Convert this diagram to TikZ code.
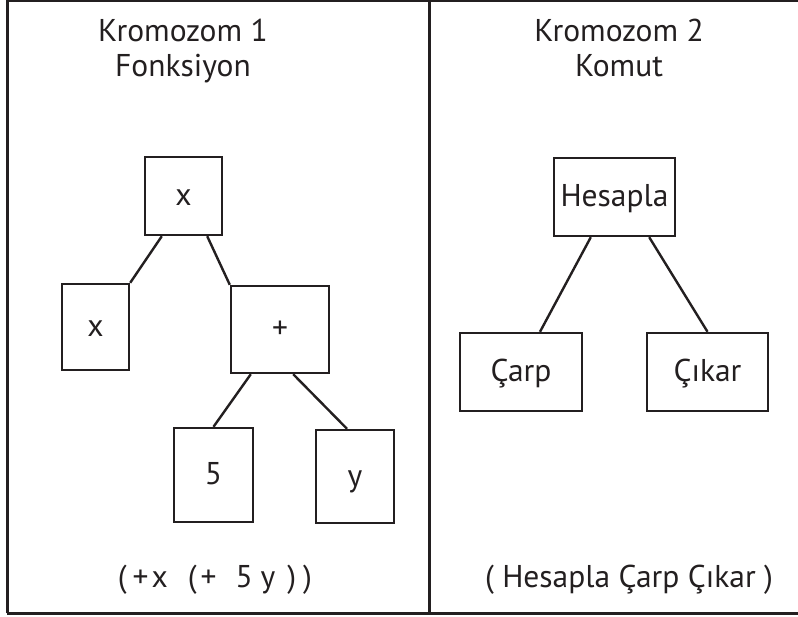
\documentclass[tikz,border=0pt]{standalone}
\usepackage{fontspec}
\setmainfont{PT Sans}
\definecolor{ink}{RGB}{35,31,32}
\newcommand{\labelfont}{\fontsize{31.5}{36}\selectfont}
\begin{document}
\begin{tikzpicture}[x=1pt,y=-1pt,
  frame/.style={draw=ink,line width=3pt},
  treebox/.style={draw=ink,line width=2.4pt,rectangle,inner sep=0pt,
    text height=19pt,text depth=0pt,font=\labelfont,text=ink},
  link/.style={draw=ink,line width=2.4pt},
  title/.style={anchor=base,inner sep=0pt,font=\labelfont,text=ink},
  expr/.style={anchor=base,inner sep=0pt,font=\labelfont,text=ink}]
\useasboundingbox (0,0) rectangle (798,617);
\fill[white] (0,0) rectangle (798,617);

% outer frame and the divider between the two chromosomes
\draw[frame] (7,613) -- (7,1) -- (800,1);
\draw[frame] (7,613) -- (800,613);
\draw[frame] (429,1) -- (429,613);

% headings
\node[title] (h1a) at (183,42) {Kromozom 1};
\node[title] (h1b) at (183,77) {Fonksiyon};
\node[title] (h2a) at (619,42) {Kromozom 2};
\node[title] (h2b) at (619,77) {Komut};

% function tree
\node[treebox,minimum width=77pt,minimum height=78pt] (tx) at (183.5,196) {x};
\node[treebox,minimum width=67pt,minimum height=86pt] (lx) at (95.5,327) {x};
\node[treebox,minimum width=98pt,minimum height=87pt] (plus) at (280,329.5) {+};
\node[treebox,minimum width=79pt,minimum height=94pt] (five) at (213.5,475) {5};
\node[treebox,minimum width=78pt,minimum height=93pt] (yy) at (355,476.5) {y};

\draw[link] ([xshift=18pt]tx.south west) -- (lx.north east);
\draw[link] ([xshift=-16pt]tx.south east) -- (plus.north west);
\draw[link] ([xshift=21pt]plus.south west) -- (five.north);
\draw[link] ([xshift=-37pt]plus.south east) -- ([xshift=-8pt]yy.north);

% command tree
\node[treebox,minimum width=121pt,minimum height=78pt] (hes) at (614.5,197) {Hesapla};
\node[treebox,minimum width=122pt,minimum height=78pt] (carp) at (521,372) {Çarp};
\node[treebox,minimum width=121pt,minimum height=78pt] (cikar) at (707.5,372) {Çıkar};

\draw[link] ([xshift=38pt]hes.south west) -- ([xshift=19pt]carp.north);
\draw[link] ([xshift=-27pt]hes.south east) -- (cikar.north);

% textual forms
\node[expr] (e1) at (215,587)
  {(\kern6pt+\kern3pt x\hspace{20pt}(\kern4pt+\hspace{19pt}5\hspace{8pt}y\hspace{12pt})\kern7pt)};
\node[expr] (e2) at (629,587) {( Hesapla Çarp Çıkar )};
\end{tikzpicture}
\end{document}
